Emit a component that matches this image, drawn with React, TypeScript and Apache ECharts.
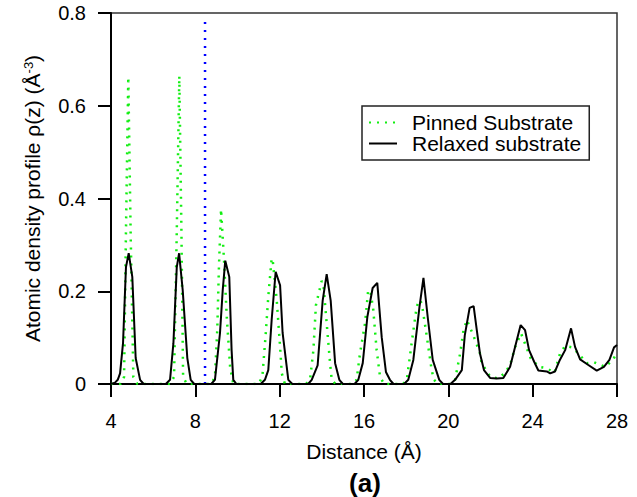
import React, { useEffect, useRef } from "react";
import * as echarts from "echarts";

const xTicks = [4, 8, 12, 16, 20, 24, 28];
const yTicks = [0, 0.2, 0.4, 0.6, 0.8];
const seriesNames = ["Pinned Substrate", "Relaxed substrate"];

const pinned: number[][] = [
  [4.0, 0], [4.45, 0], [4.62, 0.015], [4.71, 0.33], [4.82, 0.662], [4.93, 0.33], [5.06, 0.015], [5.25, 0],
  [6.8, 0], [6.99, 0.015], [7.12, 0.33], [7.24, 0.664], [7.34, 0.33], [7.42, 0.015], [7.6, 0],
  [8.75, 0], [8.93, 0.015], [9.04, 0.116], [9.12, 0.253], [9.22, 0.377], [9.36, 0.267], [9.49, 0.145], [9.65, 0.037], [9.8, 0],
  [11.0, 0], [11.18, 0.016], [11.34, 0.109], [11.46, 0.188], [11.62, 0.271], [11.67, 0.267], [11.86, 0.181], [12.02, 0.08], [12.1, 0.023], [12.25, 0],
  [13.25, 0], [13.44, 0.009], [13.6, 0.073], [13.72, 0.17], [13.99, 0.222], [14.07, 0.217], [14.23, 0.131], [14.39, 0.045], [14.47, 0.009], [14.65, 0],
  [15.45, 0], [15.65, 0.009], [15.81, 0.066], [16.05, 0.131], [16.2, 0.203], [16.32, 0.195], [16.44, 0.16], [16.6, 0.073], [16.76, 0.016], [16.95, 0],
  [17.85, 0], [18.03, 0.009], [18.26, 0.088], [18.5, 0.167], [18.63, 0.181], [18.74, 0.174], [18.98, 0.102], [19.21, 0.03], [19.32, 0.009], [19.5, 0],
  [20.1, 0], [20.32, 0.009], [20.56, 0.066], [20.72, 0.116], [20.88, 0.138], [21.11, 0.113], [21.27, 0.095], [21.5, 0.066], [21.58, 0.045],
  [21.98, 0.016], [22.37, 0.012], [22.69, 0.024], [22.93, 0.041], [23.17, 0.08], [23.45, 0.109], [23.72, 0.077], [23.91, 0.055],
  [24.3, 0.037], [24.67, 0.034], [25.03, 0.024], [25.3, 0.066], [25.54, 0.082], [25.88, 0.079], [26.17, 0.066], [26.57, 0.045],
  [26.91, 0.047], [27.43, 0.037], [27.83, 0.053], [27.99, 0.07],
];

const relaxed: number[][] = [
  [4.0, 0], [4.19, 0.003], [4.32, 0.009], [4.43, 0.023], [4.57, 0.088], [4.71, 0.252], [4.84, 0.282], [5.01, 0.231], [5.17, 0.056], [5.38, 0.009], [5.55, 0],
  [6.6, 0], [6.8, 0.009], [6.96, 0.088], [7.12, 0.252], [7.23, 0.282], [7.4, 0.203], [7.62, 0.056], [7.78, 0.009], [7.95, 0],
  [8.75, 0], [8.93, 0.009], [9.17, 0.11], [9.3, 0.203], [9.42, 0.266], [9.61, 0.231], [9.72, 0.073], [9.8, 0.009], [9.95, 0],
  [11.1, 0], [11.3, 0.009], [11.46, 0.03], [11.62, 0.138], [11.81, 0.242], [12.02, 0.213], [12.14, 0.11], [12.41, 0.009], [12.6, 0],
  [13.35, 0], [13.52, 0.009], [13.8, 0.04], [14.04, 0.18], [14.23, 0.237], [14.42, 0.18], [14.63, 0.045], [14.83, 0.009], [15.0, 0],
  [15.55, 0], [15.73, 0.009], [15.94, 0.045], [16.16, 0.145], [16.41, 0.207], [16.63, 0.218], [16.84, 0.101], [17.04, 0.026], [17.23, 0.009], [17.4, 0],
  [17.9, 0], [18.1, 0.009], [18.34, 0.052], [18.63, 0.166], [18.82, 0.229], [19.02, 0.145], [19.26, 0.052], [19.57, 0.009], [19.75, 0],
  [20.1, 0], [20.32, 0.009], [20.64, 0.03], [20.78, 0.105], [21.01, 0.164], [21.2, 0.168], [21.35, 0.116], [21.5, 0.066], [21.69, 0.03],
  [21.98, 0.013], [22.3, 0.012], [22.61, 0.013], [22.93, 0.037], [23.21, 0.088], [23.43, 0.127], [23.64, 0.116], [23.83, 0.073],
  [24.07, 0.048], [24.27, 0.029], [24.67, 0.027], [24.83, 0.023], [25.06, 0.027], [25.27, 0.05], [25.54, 0.073], [25.82, 0.12],
  [26.01, 0.08], [26.25, 0.053], [26.64, 0.041], [27.04, 0.029], [27.38, 0.037], [27.64, 0.052], [27.86, 0.079], [28.0, 0.084],
];

const markerLine: number[][] = [[8.46, 0], [8.46, 0.79]];

const FONT = "'Liberation Sans', Arial, Helvetica, sans-serif";

export default function App() {
  const ref = useRef<HTMLDivElement>(null);
  useEffect(() => {
    if (!ref.current) return;
    const chart = echarts.init(ref.current, undefined, { renderer: "svg" });
    chart.setOption({
      animation: false,
      backgroundColor: "#fff",
      textStyle: { fontFamily: FONT },
      grid: {
        left: 111, top: 13, width: 506, height: 371,
        show: true, borderColor: "#333", borderWidth: 1.5, backgroundColor: "transparent",
      },
      legend: {
        data: seriesNames,
        orient: "vertical",
        left: 362, top: 106,
        itemWidth: 28, itemHeight: 14, itemGap: 0,
        padding: [6, 8, 6, 6],
        borderColor: "#222", borderWidth: 1.5,
        backgroundColor: "#fff",
        itemStyle: { opacity: 0 },
        textStyle: { fontSize: 21, color: "#000", fontFamily: FONT, padding: [0, 0, 0, 10] },
      },
      xAxis: {
        type: "value", min: xTicks[0], max: xTicks[xTicks.length - 1], interval: 4,
        name: "Distance (Å)", nameLocation: "middle", nameGap: 57,
        nameTextStyle: { fontSize: 21, color: "#000", fontFamily: FONT },
        axisLine: { lineStyle: { color: "#000", width: 2 } },
        axisTick: { inside: false, length: 13, lineStyle: { color: "#000", width: 2 } },
        axisLabel: { fontSize: 20, color: "#000", margin: 27, fontFamily: FONT },
        splitLine: { show: false },
      },
      yAxis: {
        type: "value", min: yTicks[0], max: yTicks[yTicks.length - 1], interval: 0.2,
        name: "Atomic density profile ρ(z) (Å{sup|-3})", nameLocation: "middle", nameGap: 68,
        nameTextStyle: {
          fontSize: 21, color: "#000", fontFamily: FONT,
          rich: { sup: { fontSize: 13, verticalAlign: "top", padding: [0, 0, 8, 0], color: "#000", fontFamily: FONT } },
        },
        axisLine: { lineStyle: { color: "#000", width: 2 } },
        axisTick: { inside: false, length: 13, lineStyle: { color: "#000", width: 2 } },
        axisLabel: { fontSize: 20, color: "#000", margin: 25, fontFamily: FONT },
        splitLine: { show: false },
      },
      graphic: [
        {
          type: "text", x: 365, y: 483,
          style: {
            text: "(a)", fontSize: 26, fontWeight: "bold", fill: "#000", fontFamily: FONT,
            textAlign: "center", textVerticalAlign: "middle",
          },
        },
      ],
      series: [
        {
          name: seriesNames[0], type: "line", data: pinned, symbol: "none", z: 2,
          lineStyle: { color: "#11ee11", width: 2.5, type: [2, 6] },
          itemStyle: { color: "#11ee11" },
        },
        {
          name: "marker", type: "line", data: markerLine, symbol: "none", z: 2,
          lineStyle: { color: "#0000ff", width: 2.5, type: [2, 6] },
        },
        {
          name: seriesNames[1], type: "line", data: relaxed, symbol: "none", z: 3,
          lineStyle: { color: "#000", width: 2 },
          itemStyle: { color: "#000" },
        },
      ],
    });
    return () => chart.dispose();
  }, []);
  return <div ref={ref} style={{ position: "fixed", left: 0, top: 0, width: 637, height: 497 }} />;
}
